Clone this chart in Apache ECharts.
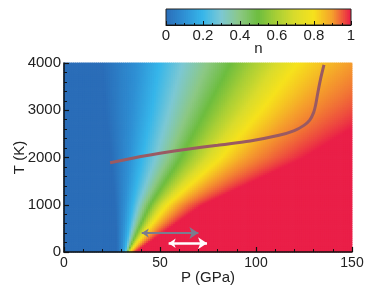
<!DOCTYPE html>
<html><head><meta charset="utf-8">
<script src="https://cdn.jsdelivr.net/npm/echarts@6/dist/echarts.min.js"></script>
<style>html,body{margin:0;padding:0;background:#fff}#c{width:374px;height:292px}</style>
</head><body><div id="c"></div>
<script>
// ---- data ----
// n-contour positions: P (GPa) at which n reaches each level, at each T row
const contourT = [0, 1000, 2000, 3000, 4000];
const contourLevels = [0, 0.1, 0.2, 0.3, 0.4, 0.5, 0.6, 0.7, 0.8, 0.9, 1.0];
const contourP = [
  [28.0, 27, 25, 22, 20],
  [30.5, 32, 34, 36, 38],
  [32.0, 36, 41, 46, 50],
  [32.5, 39, 48, 55, 62],
  [33.0, 42, 55, 65, 75],
  [33.3, 45, 61, 74, 87],
  [33.6, 48, 68, 84, 99],
  [34.0, 51, 75, 94, 111],
  [34.5, 54, 82, 103, 122],
  [35.5, 60, 95, 122, 148],
  [37.0, 72, 125, 165, 205]
];
// melting / path curve
const pathP = [24, 40, 50, 65, 80, 97, 112, 120, 125, 128, 130, 131, 132.3, 133.7, 135.4];
const pathT = [1890, 2020, 2090, 2180, 2260, 2350, 2470, 2570, 2680, 2790, 2950, 3100, 3390, 3675, 3960];
// arrows
const grayArrowP = [40.5, 70];
const grayArrowT = 400;
const whiteArrowP = [54.5, 74.5];
const whiteArrowT = 185;
// colour-bar ticks
const nTicks = [0, 0.2, 0.4, 0.6, 0.8, 1];
const colorStops = ['#2a6db8', '#2f90d4', '#36b6ea', '#7cc8d4', '#8cc884', '#6dbd3f',
                    '#a9cf36', '#dadc2c', '#f6e21c', '#f5a02c', '#ea1f48'];

// ---- build the field from the read contours ----
function levelP(i, T) {
  const row = contourP[i];
  for (let k = 0; k < contourT.length - 1; k++) {
    if (T <= contourT[k + 1]) {
      const f = (T - contourT[k]) / (contourT[k + 1] - contourT[k]);
      return row[k] + f * (row[k + 1] - row[k]);
    }
  }
  return row[row.length - 1];
}
function nAt(P, T) {
  const ps = contourLevels.map((l, i) => levelP(i, T));
  if (P <= ps[0]) return contourLevels[0];
  for (let i = 0; i < ps.length - 1; i++) {
    if (P <= ps[i + 1]) {
      const f = (P - ps[i]) / (ps[i + 1] - ps[i]);
      return contourLevels[i] + f * (contourLevels[i + 1] - contourLevels[i]);
    }
  }
  return contourLevels[contourLevels.length - 1];
}
const dP = 1, dT = 40;
const cells = [];
for (let P = dP / 2; P < 150; P += dP) {
  for (let T = dT / 2; T < 4000; T += dT) {
    cells.push([P, T, nAt(P, T)]);
  }
}
const dN = 0.01;
const barCells = [];
for (let c = dN / 2; c < 1; c += dN) barCells.push([c, 0.5, c]);

const FONT = 'Liberation Sans, Arial, Helvetica, sans-serif';
function cellRenderer(w, h) {
  return function (params, api) {
    const p0 = api.coord([api.value(0) - w / 2, api.value(1) + h / 2]);
    const s = api.size([w, h]);
    return { type: 'rect',
      shape: { x: p0[0] - 0.4, y: p0[1] - 0.4, width: s[0] + 0.8, height: s[1] + 0.8 },
      style: { fill: api.visual('color') } };
  };
}
const axisCommon = {
  axisLine: { show: true, onZero: false, lineStyle: { color: '#111', width: 1.5 } },
  axisTick: { show: true, inside: true, length: 5, lineStyle: { color: '#111', width: 1.2 } },
  minorTick: { show: true, length: 3, lineStyle: { color: '#111', width: 1 } },
  splitLine: { show: false }, minorSplitLine: { show: false },
  axisLabel: { fontSize: 15, color: '#222', fontFamily: FONT, formatter: v => String(v) },
  nameTextStyle: { fontSize: 15, color: '#222', fontFamily: FONT },
  nameMoveOverlap: false,
  z: 10
};

const chart = echarts.init(document.getElementById('c'), null, { renderer: 'canvas' });
chart.setOption({
  animation: false,
  backgroundColor: '#fff',
  grid: [
    { left: 64, top: 63, width: 288, height: 189, containLabel: false, outerBoundsMode: 'none' },
    { left: 166, top: 9, width: 185, height: 16, show: true, borderColor: '#222', borderWidth: 1,
      backgroundColor: 'transparent', z: 5, containLabel: false, outerBoundsMode: 'none' }
  ],
  visualMap: { show: false, type: 'continuous', min: 0, max: 1, dimension: 2, seriesIndex: [0, 1],
    inRange: { color: colorStops } },
  xAxis: [
    Object.assign({}, axisCommon, { gridIndex: 0, type: 'value', min: 0, max: 150, interval: 50,
      minorTick: Object.assign({}, axisCommon.minorTick, { splitNumber: 5 }),
      axisLabel: Object.assign({}, axisCommon.axisLabel, { margin: 4, fontSize: 14 }),
      name: 'P (GPa)', nameLocation: 'middle', nameGap: 18 }),
    Object.assign({}, axisCommon, { gridIndex: 1, type: 'value', min: 0, max: 1, interval: 0.2,
      axisTick: { show: true, inside: true, length: 4, lineStyle: { color: '#111', width: 1 } },
      minorTick: { show: true, splitNumber: 4, length: 2, lineStyle: { color: '#111', width: 1 } },
      axisLine: { show: true, lineStyle: { color: '#111', width: 1 } },
      axisLabel: Object.assign({}, axisCommon.axisLabel, { margin: 3 }),
      name: 'n', nameLocation: 'middle', nameGap: 16 })
  ],
  yAxis: [
    Object.assign({}, axisCommon, { gridIndex: 0, type: 'value', min: 0, max: 4000, interval: 1000,
      minorTick: Object.assign({}, axisCommon.minorTick, { splitNumber: 5 }),
      axisLabel: Object.assign({}, axisCommon.axisLabel, { margin: 3 }),
      name: 'T (K)', nameLocation: 'middle', nameGap: 37 }),
    { gridIndex: 1, type: 'value', min: 0, max: 1, show: false }
  ],
  series: [
    { type: 'custom', xAxisIndex: 0, yAxisIndex: 0, renderItem: cellRenderer(dP, dT),
      data: cells, encode: { x: 0, y: 1 }, clip: true, silent: true, z: 1 },
    { type: 'custom', xAxisIndex: 1, yAxisIndex: 1, renderItem: function (params, api) {
        const p0 = api.coord([api.value(0) - dN / 2, 1]);
        const s = api.size([dN, 1]);
        return { type: 'rect', shape: { x: p0[0] - 0.4, y: p0[1], width: s[0] + 0.8, height: s[1] },
          style: { fill: api.visual('color') } };
      }, data: barCells, encode: { x: 0, y: 1 }, clip: true, silent: true, z: 1 },
    { type: 'line', xAxisIndex: 0, yAxisIndex: 0, data: pathP.map((p, i) => [p, pathT[i]]),
      smooth: 0.3, showSymbol: false, lineStyle: { color: '#9a5a62', width: 3 }, z: 5 },
    { type: 'lines', coordinateSystem: 'cartesian2d', xAxisIndex: 0, yAxisIndex: 0, z: 6,
      symbol: ['arrow', 'arrow'], symbolSize: [7, 9],
      data: [
        { coords: [[grayArrowP[0], grayArrowT], [grayArrowP[1], grayArrowT]], lineStyle: { color: '#7b7c8e', width: 2, opacity: 1 } },
        { coords: [[whiteArrowP[0], whiteArrowT], [whiteArrowP[1], whiteArrowT]], lineStyle: { color: '#ffffff', width: 2.5, opacity: 1 } }
      ] }
  ]
});
</script></body></html>
